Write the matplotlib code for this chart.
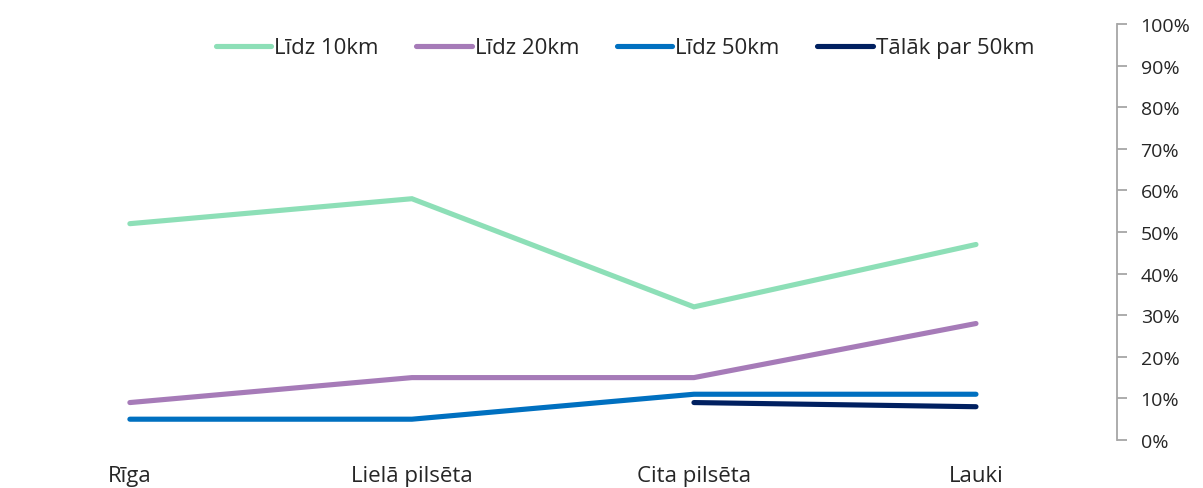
import numpy as np
import matplotlib
matplotlib.use("Agg")
import matplotlib.pyplot as plt
from matplotlib.ticker import PercentFormatter, FixedLocator

plt.rcParams['font.family'] = ['Open Sans', 'DejaVu Sans']

categories = ["Rīga", "Lielā pilsēta", "Cita pilsēta", "Lauki"]
series_names = ["Līdz 10km", "Līdz 20km", "Līdz 50km", "Tālāk par 50km"]
lidz_10 = [52, 58, 32, 47]
lidz_20 = [9, 15, 15, 28]
lidz_50 = [5, 5, 11, 11]
talak_50 = [np.nan, np.nan, 9, 8]
colors = ["#8DDFB7", "#A67BB8", "#0070C0", "#002060"]

W, H = 1203, 489
fig = plt.figure(figsize=(W / 100, H / 100), dpi=100)
ax = fig.add_axes([0, 48 / H, 1117 / W, 416 / H])

x = np.arange(len(categories))
for name, vals, col in zip(series_names, [lidz_10, lidz_20, lidz_50, talak_50], colors):
    ax.plot(x, np.array(vals, dtype=float) / 100, color=col, lw=3.7,
            solid_capstyle='round', solid_joinstyle='miter', label=name)

ax.set_xlim(-0.4605, 3.5)
ax.set_ylim(0, 1)

for s in ["top", "left", "bottom"]:
    ax.spines[s].set_visible(False)
ax.spines["right"].set_color("#A6A6A6")
ax.spines["right"].set_linewidth(1.3)

ax.yaxis.tick_right()
ax.yaxis.set_major_locator(FixedLocator(np.linspace(0, 1, 11)))
ax.yaxis.set_major_formatter(PercentFormatter(1.0, decimals=0))
ax.tick_params(axis='y', direction='out', length=7, width=1.3, color="#A6A6A6",
               labelsize=14, labelcolor="#262626", pad=10)

ax.set_xticks(x)
ax.set_xticklabels(categories)
ax.tick_params(axis='x', length=0, labelsize=16, labelcolor="#262626", pad=18)

leg = fig.legend(loc='center', bbox_to_anchor=(0.5195, 0.900), ncol=4, frameon=False,
                 fontsize=16, handlelength=2.5, handletextpad=0.12,
                 columnspacing=1.7, labelcolor="#262626")
for h in leg.get_lines():
    h.set_linewidth(3.7)
    h.set_solid_capstyle('round')

fig.savefig("out.png", dpi=100)
